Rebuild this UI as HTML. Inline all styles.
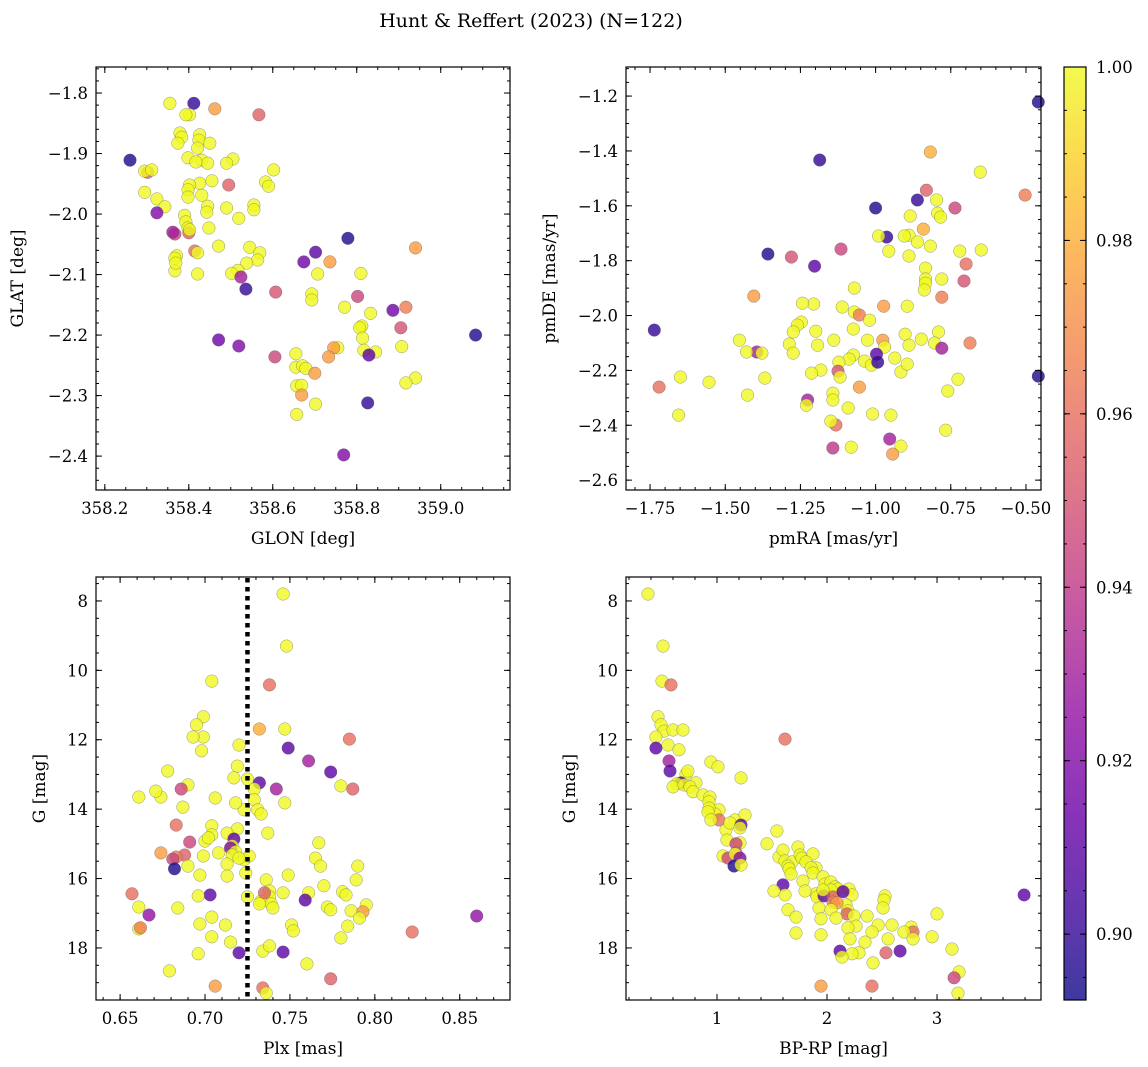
<!DOCTYPE html>
<html><head><meta charset="utf-8"><style>
html,body{margin:0;padding:0;background:#fff}
svg{display:block;font-family:"DejaVu Serif","Liberation Serif",serif}
</style></head><body>
<svg id="fig" width="1148" height="1067" viewBox="0 0 1148 1067">
<text x="531" y="27" text-anchor="middle" font-size="19">Hunt &amp; Reffert (2023) (N=122)</text>
</svg>
<script>
// ---- Panel 1: GLON / GLAT ----
const glon1=[358.260,358.355,358.412,358.462,358.567,358.402,358.393,358.379,358.383,358.426,358.424,358.374,358.450,358.398,358.421,358.505,358.431,358.445,358.417,358.490,358.602,358.302,358.295,358.312,358.295,358.495,358.583,358.590,358.455,358.426,358.402,358.398,358.324,358.343,358.398,358.431,358.445,358.490,358.555,358.555,358.324,358.390,358.443,358.519,358.393,358.398,358.448,358.367,358.400,358.362,358.402,358.471,358.545,358.371,358.367,358.414,358.421,358.421,358.367,358.369,358.569,358.564,358.779,358.702,358.736,358.674,358.707,358.810,358.940,358.538,358.517,358.502,358.524,358.536,358.607,358.693,358.693,358.771,358.802,358.886,358.917,358.833,358.812,358.807,358.905,358.471,358.519,358.814,358.817,358.845,358.829,358.755,358.745,358.907,358.605,358.733,358.655,358.655,358.671,358.679,358.700,359.083,358.940,358.917,358.657,358.669,358.669,358.702,358.657,358.826,358.769];
const glat1=[-1.911,-1.817,-1.817,-1.826,-1.836,-1.836,-1.836,-1.866,-1.873,-1.869,-1.878,-1.883,-1.883,-1.907,-1.891,-1.909,-1.911,-1.916,-1.914,-1.916,-1.927,-1.931,-1.929,-1.927,-1.964,-1.952,-1.947,-1.954,-1.945,-1.949,-1.952,-1.960,-1.975,-1.988,-1.972,-1.969,-1.987,-1.990,-1.985,-1.993,-1.998,-2.002,-1.997,-2.007,-2.013,-2.023,-2.023,-2.033,-2.031,-2.030,-2.026,-2.053,-2.055,-2.069,-2.073,-2.061,-2.064,-2.099,-2.094,-2.081,-2.064,-2.076,-2.040,-2.063,-2.079,-2.079,-2.099,-2.098,-2.056,-2.081,-2.093,-2.098,-2.104,-2.124,-2.129,-2.132,-2.142,-2.154,-2.136,-2.159,-2.154,-2.164,-2.185,-2.188,-2.188,-2.208,-2.218,-2.205,-2.225,-2.228,-2.233,-2.221,-2.221,-2.219,-2.236,-2.236,-2.231,-2.253,-2.251,-2.255,-2.263,-2.200,-2.271,-2.279,-2.284,-2.283,-2.299,-2.314,-2.331,-2.312,-2.398];
const prob1=[.895,1,.90,.975,.955,1,1,1,1,1,1,1,1,1,1,1,1,1,1,1,1,.955,1,1,1,.955,1,1,1,1,1,1,1,1,1,1,1,1,1,1,.92,1,1,1,1,1,1,.945,.955,.93,1,1,1,1,1,.96,1,1,1,1,1,1,.895,.91,.975,.915,1,1,.975,1,1,1,.93,.90,.95,1,1,1,.945,.915,.965,1,1,1,.95,.915,.92,1,1,1,.91,1,.975,1,.945,.975,1,1,1,1,.975,.895,1,1,1,1,.975,1,1,.90,.92];
// ---- Panel 2: pmRA / pmDE ----
const pmra2=[-0.459,-0.818,-0.503,-0.652,-1.186,-1.0,-0.861,-0.831,-0.736,-0.797,-0.794,-0.784,-0.885,-0.889,-0.905,-0.841,-0.861,-0.818,-0.963,-0.990,-0.720,-0.649,-1.280,-1.358,-1.203,-1.115,-0.956,-0.699,-0.889,-0.834,-0.834,-0.834,-0.838,-0.780,-0.706,-0.780,-1.071,-1.405,-0.895,-1.111,-0.973,-1.071,-1.206,-1.243,-1.054,-1.020,-1.247,-1.260,-1.274,-1.199,-1.453,-1.193,-1.287,-0.902,-0.889,-0.791,-0.848,-0.804,-1.074,-1.027,-1.139,-0.976,-0.970,-0.997,-0.686,-1.074,-1.395,-1.429,-1.378,-1.274,-1.088,-1.122,-0.936,-1.037,-1.014,-0.780,-0.993,-1.649,-1.554,-1.736,-1.182,-1.125,-1.118,-1.368,-0.916,-0.895,-1.142,-1.142,-0.726,-0.459,-0.760,-1.226,-1.230,-1.054,-1.426,-1.091,-1.213,-1.010,-1.132,-1.655,-0.949,-1.720,-0.953,-0.767,-1.149,-0.916,-0.943,-1.142,-1.081];
const pmde2=[-1.222,-1.404,-1.561,-1.477,-1.433,-1.608,-1.579,-1.543,-1.608,-1.579,-1.627,-1.641,-1.637,-1.707,-1.710,-1.685,-1.732,-1.747,-1.714,-1.710,-1.765,-1.761,-1.787,-1.776,-1.820,-1.758,-1.765,-1.812,-1.783,-1.827,-1.867,-1.882,-1.907,-1.867,-1.874,-1.933,-1.900,-1.929,-1.966,-1.969,-1.966,-1.987,-1.958,-1.955,-1.998,-2.017,-2.024,-2.035,-2.060,-2.057,-2.090,-2.108,-2.104,-2.068,-2.108,-2.060,-2.086,-2.100,-2.049,-2.090,-2.090,-2.090,-2.115,-2.141,-2.100,-2.144,-2.133,-2.133,-2.137,-2.137,-2.159,-2.170,-2.155,-2.166,-2.181,-2.119,-2.170,-2.224,-2.243,-2.053,-2.199,-2.203,-2.224,-2.228,-2.206,-2.177,-2.283,-2.308,-2.232,-2.221,-2.275,-2.308,-2.327,-2.261,-2.290,-2.337,-2.210,-2.359,-2.399,-2.363,-2.363,-2.261,-2.450,-2.418,-2.385,-2.476,-2.505,-2.483,-2.480];
const prob2=[.895,.98,.965,1,.90,.895,.90,.955,.945,1,1,1,1,1,1,.98,1,1,.90,1,1,1,.95,.895,.91,.945,1,.96,1,1,1,1,1,1,.95,.965,1,.975,1,1,.975,1,1,1,.965,1,1,1,1,1,1,1,1,1,1,1,1,1,1,1,1,.975,1,.91,.965,1,.93,1,1,1,1,1,1,1,1,.93,.90,1,1,.90,1,.95,1,1,1,1,1,1,1,.895,1,.93,1,.975,1,1,1,1,.96,1,1,.96,.93,1,1,1,.975,.94,1];
// ---- Panel 3: Plx / G ----
const plx3=[.746,.748,.704,.738,.732,.699,.695,.699,.693,.747,.720,.749,.785,.761,.698,.719,.678,.717,.725,.732,.774,.729,.742,.690,.780,.787,.686,.674,.671,.661,.729,.706,.723,.718,.747,.731,.687,.733,.683,.719,.704,.704,.700,.702,.713,.737,.717,.691,.716,.767,.715,.718,.708,.716,.699,.688,.683,.681,.765,.723,.726,.720,.713,.682,.690,.768,.674,.790,.697,.724,.713,.749,.736,.789,.770,.738,.761,.703,.738,.696,.725,.746,.733,.781,.783,.772,.735,.795,.774,.759,.739,.684,.661,.732,.740,.786,.793,.791,.657,.667,.704,.661,.662,.712,.697,.704,.751,.715,.752,.784,.780,.822,.860,.746,.720,.734,.738,.760,.679,.696,.774,.734,.706,.736];
const g3=[7.80,9.30,10.31,10.42,11.69,11.34,11.57,11.92,11.92,11.69,12.15,12.24,11.98,12.61,12.32,12.76,12.90,13.10,13.13,13.24,12.93,13.42,13.42,13.30,13.33,13.42,13.42,13.65,13.48,13.65,13.73,13.68,14.02,13.82,13.82,14.02,13.94,14.14,14.46,14.57,14.48,14.74,14.92,14.83,14.69,14.69,14.86,14.95,15.06,14.97,15.12,15.23,15.26,15.32,15.35,15.32,15.38,15.44,15.41,15.46,15.35,15.41,15.58,15.72,15.64,15.64,15.26,15.64,15.90,15.84,15.93,15.90,16.04,16.04,16.21,16.36,16.41,16.47,16.53,16.50,16.53,16.41,16.65,16.38,16.47,16.82,16.41,16.76,16.90,16.62,16.73,16.85,16.82,16.73,16.85,16.93,16.96,17.14,16.44,17.05,17.11,17.45,17.42,17.34,17.31,17.68,17.34,17.83,17.51,17.37,17.71,17.54,17.08,18.12,18.14,18.09,17.94,18.46,18.66,18.17,18.89,19.15,19.10,19.30];
const prob3=[1,1,1,.96,.98,1,1,1,1,1,1,.91,.96,.93,1,1,1,1,1,.91,.91,1,.93,1,1,.955,.945,1,1,1,1,1,1,1,1,1,1,1,.96,1,1,1,1,1,1,1,.91,.945,1,1,.92,1,1,1,1,.955,.965,.945,1,1,1,1,1,.895,1,1,.975,1,1,1,1,1,1,1,1,1,1,.91,1,1,1,1,1,1,1,1,.955,1,1,.91,1,1,1,1,1,1,.975,1,.96,.925,1,1,.965,1,1,1,1,1,1,1,1,.96,.925,.91,.91,1,1,1,1,1,.955,.96,.975,1];
// ---- Panel 4: BP-RP / G ----
const bprp4=[.373,.509,.500,.582,.464,.491,.518,.600,.691,.445,.555,.445,1.618,.564,.655,.945,.573,1.009,.718,.736,.673,.809,.636,.600,.700,.755,.782,.873,1.218,.936,.927,1.018,.982,.927,.918,1.018,1.164,.945,1.082,1.118,1.255,1.218,1.209,1.091,1.209,1.173,1.545,1.455,1.173,1.055,1.100,1.164,1.209,1.564,1.600,1.618,1.682,1.736,1.755,1.773,1.873,1.155,1.218,1.645,1.655,1.809,1.900,1.855,1.873,1.964,1.673,1.782,1.982,2.036,2.073,2.100,2.200,2.036,1.900,1.800,1.909,1.973,2.055,2.227,2.527,1.600,1.618,1.518,1.964,2.145,2.518,2.173,1.645,2.509,1.927,2.055,2.091,2.191,2.036,2.182,1.718,2.245,2.082,1.945,2.364,2.464,2.409,2.591,2.264,2.191,2.764,2.782,2.700,2.782,2.955,2.209,2.555,2.345,2.118,2.664,2.291,2.418,3.136,2.536,1.718,1.945,3.000,2.409,1.945,3.191,3.200,3.791,2.227,2.136,3.155];
const g4=[7.80,9.30,10.31,10.42,11.34,11.57,11.75,11.72,11.72,11.92,12.15,12.24,11.98,12.61,12.29,12.64,12.90,12.78,12.99,12.90,13.24,13.24,13.27,13.36,13.30,13.36,13.50,13.59,13.10,13.65,13.79,14.02,14.14,13.97,14.08,14.31,14.31,14.31,14.60,14.40,14.17,14.46,14.54,14.89,14.97,15.00,14.63,15.00,15.26,15.35,15.41,15.29,15.41,15.38,15.18,15.49,15.52,15.09,15.32,15.41,15.29,15.64,15.61,15.64,15.72,15.52,15.69,15.69,15.84,15.95,15.87,16.07,16.16,16.10,16.24,16.30,16.30,16.33,16.44,16.36,16.53,16.50,16.53,16.47,16.50,16.18,16.47,16.36,16.33,16.38,16.62,16.76,16.90,16.85,16.85,16.68,16.70,16.93,16.90,17.02,17.11,17.08,17.14,17.16,17.08,17.34,17.54,17.34,17.37,17.42,17.40,17.54,17.54,17.74,17.68,17.74,17.74,17.83,18.09,18.09,18.14,18.43,18.03,18.14,17.57,17.62,17.02,19.10,19.10,19.30,18.69,16.47,18.17,18.26,18.86];
const prob4=[1,1,1,.96,1,1,1,1,1,1,1,.91,.96,.93,1,1,.91,1,1,1,.91,1,1,1,1,1,1,1,1,1,1,1,1,1,1,.96,1,1,1,1,1,.91,1,1,1,.945,1,1,.955,1,.945,1,.92,1,1,1,1,1,1,1,1,.895,1,1,1,1,1,1,1,1,1,1,1,1,1,1,1,1,1,1,1,.91,.955,1,1,.91,1,1,1,.91,1,1,1,1,1,.965,.975,1,1,.955,1,1,1,1,1,1,1,1,1,1,1,.96,1,1,1,1,1,1,.91,.91,1,1,1,.955,1,1,1,.96,.975,1,1,.91,1,1,.945];
// tick labels
const ticks1x=[358.2,358.4,358.6,358.8,359.0], ticks1y=[-1.8,-1.9,-2.0,-2.1,-2.2,-2.3,-2.4];
const ticks2x=[-1.75,-1.50,-1.25,-1.00,-0.75,-0.50], ticks2y=[-1.2,-1.4,-1.6,-1.8,-2.0,-2.2,-2.4,-2.6];
const ticks3x=[0.65,0.70,0.75,0.80,0.85], ticksGy=[8,10,12,14,16,18], ticks4x=[1,2,3];
const cbTicks=[0.90,0.92,0.94,0.96,0.98,1.00];
const VMIN=0.8924, VMAX=1.0;

const NS='http://www.w3.org/2000/svg';
const svg=document.getElementById('fig');
function el(tag,attrs,parent){const e=document.createElementNS(NS,tag);for(const k in attrs)e.setAttribute(k,attrs[k]);(parent||svg).appendChild(e);return e;}
const stops=['#0d0887','#41049d','#6a00a8','#8f0da4','#b12a90','#cc4778','#e16462','#f2844b','#fca636','#fcce25','#f0f921'];
function hex(h){return[parseInt(h.substr(1,2),16),parseInt(h.substr(3,2),16),parseInt(h.substr(5,2),16)];}
function plasma(t){t=Math.max(0,Math.min(1,t));const f=t*10,i=Math.min(9,Math.floor(f)),r=f-i;const a=hex(stops[i]),b=hex(stops[i+1]);return 'rgb('+a.map((v,k)=>Math.round(v+(b[k]-v)*r)).join(',')+')';}
function lin(d0,d1,p0,p1){return v=>p0+(v-d0)/(d1-d0)*(p1-p0);}

function panel(name,box,xd,yd,ptsX,ptsY,probs,xt,yt,xminor,yminor,xfmt,yfmt,xlabel,ylabel,ylx){
  const g=el('g',{},svg);
  
  
  const [L,T,R,B]=box;
  const X=lin(xd[0],xd[1],L,R), Y=lin(yd[0],yd[1],B,T);
  const pg=el('g',{},g);
  
  
  for(let i=0;i<ptsX.length;i++){
    const c=el('circle',{cx:X(ptsX[i]).toFixed(1),cy:Y(ptsY[i]).toFixed(1),r:6.3,fill:plasma((probs[i]-VMIN)/(VMAX-VMIN)),'fill-opacity':0.8,stroke:'#555','stroke-opacity':0.6,'stroke-width':0.5},pg);
    
    
  }
  const fr=el('rect',{x:L,y:T,width:R-L,height:B-T,fill:'none',stroke:'#000','stroke-width':1.2},g);
  
  
  const tk=el('g',{stroke:'#000','stroke-width':1},g);
  const lo=Math.min(xd[0],xd[1]),hi=Math.max(xd[0],xd[1]);
  for(let v=Math.ceil(lo/xminor)*xminor;v<=hi+1e-9;v+=xminor){const x=X(v);el('line',{x1:x,x2:x,y1:B,y2:B-3},tk);el('line',{x1:x,x2:x,y1:T,y2:T+3},tk);}
  const ylo=Math.min(yd[0],yd[1]),yhi=Math.max(yd[0],yd[1]);
  for(let v=Math.ceil(ylo/yminor)*yminor;v<=yhi+1e-9;v+=yminor){const y=Y(v);el('line',{x1:L,x2:L+3,y1:y,y2:y},tk);el('line',{x1:R,x2:R-3,y1:y,y2:y},tk);}
  xt.forEach(v=>{const x=X(v);el('line',{x1:x,x2:x,y1:B,y2:B-6},tk);el('line',{x1:x,x2:x,y1:T,y2:T+6},tk);
    const t=el('text',{x:x,y:B+24,'text-anchor':'middle','font-size':16.5},g);t.textContent=xfmt(v);
    
    });
  yt.forEach(v=>{const y=Y(v);el('line',{x1:L,x2:L+6,y1:y,y2:y},tk);el('line',{x1:R,x2:R-6,y1:y,y2:y},tk);
    const t=el('text',{x:L-8,y:y+6,'text-anchor':'end','font-size':16.5},g);t.textContent=yfmt(v);
    
    });
  const xl=el('text',{x:(L+R)/2,y:B+54,'text-anchor':'middle','font-size':17},g);xl.textContent=xlabel;
  
  
  const yy=(T+B)/2;
  const yl=el('text',{x:ylx,y:yy,'text-anchor':'middle','font-size':17,transform:'rotate(-90 '+ylx+' '+yy+')'},g);yl.textContent=ylabel;
  
  
}
const m=v=>String(v).replace('-','\u2212');
const f1=v=>m(v.toFixed(1)), f2=v=>m(v.toFixed(2));
panel('panel-glon-glat',[96,67,510,490],[358.179,359.165],[-2.456,-1.757],glon1,glat1,prob1,ticks1x,ticks1y,0.05,0.02,f1,f1,'GLON [deg]','GLAT [deg]',23);
panel('panel-pm',[626,67,1041,490],[-1.830,-0.450],[-2.636,-1.094],pmra2,pmde2,prob2,ticks2x,ticks2y,0.05,0.05,f2,f1,'pmRA [mas/yr]','pmDE [mas/yr]',555);
panel('panel-plx-g',[96,577,510,1000],[0.6358,0.8796],[19.50,7.31],plx3,g3,prob3,ticks3x,ticksGy,0.01,0.5,f2,v=>String(v),'Plx [mas]','G [mag]',45);
panel('panel-cmd',[626,577,1041,1000],[0.173,3.945],[19.50,7.31],bprp4,g4,prob4,ticks4x,ticksGy,0.2,0.5,v=>String(v),v=>String(v),'BP-RP [mag]','G [mag]',575);
// dotted reference line in Plx panel
(function(){const X=lin(0.6358,0.8796,96,510);const x=X(0.725);
  const l=el('line',{x1:x,x2:x,y1:578,y2:999,stroke:'#000','stroke-width':4.5,'stroke-dasharray':'4.5 4.5'});
  
  })();
// colorbar
(function(){
  const L=1064,R=1086,T=67,B=1000;
  const defs=el('defs',{});
  const gr=el('linearGradient',{id:'cbg',x1:0,y1:1,x2:0,y2:0},defs);
  for(let i=0;i<=20;i++)el('stop',{offset:i/20,'stop-color':plasma(i/20)},gr);
  const cb=el('g',{});
  
  
  el('rect',{x:L,y:T,width:R-L,height:B-T,fill:'url(#cbg)','fill-opacity':0.8},cb);
  el('rect',{x:L,y:T,width:R-L,height:B-T,fill:'none',stroke:'#000','stroke-width':1.2},cb);
  const Y=lin(VMIN,VMAX,B,T);
  for(let v=0.895;v<=1.0001;v+=0.005){const y=Y(v);el('line',{x1:R,x2:R-3,y1:y,y2:y,stroke:'#000'},cb);el('line',{x1:L,x2:L+3,y1:y,y2:y,stroke:'#000'},cb);}
  cbTicks.forEach(v=>{const y=Y(v);el('line',{x1:R,x2:R-6,y1:y,y2:y,stroke:'#000'},cb);el('line',{x1:L,x2:L+6,y1:y,y2:y,stroke:'#000'},cb);
    const t=el('text',{x:R+10,y:y+6,'font-size':16.5},cb);t.textContent=v.toFixed(2);
    
    });
})();
</script>
</body></html>
